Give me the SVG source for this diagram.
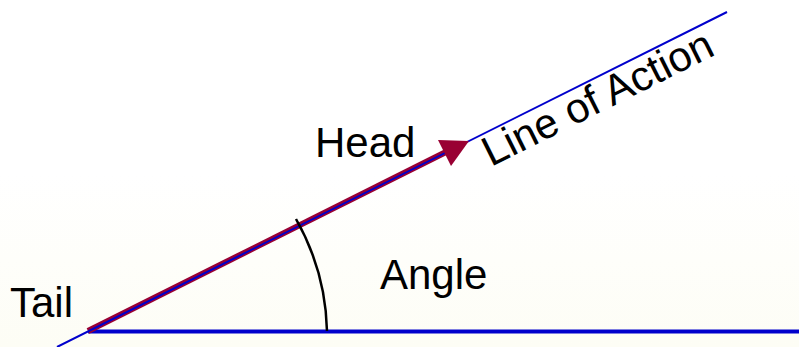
<svg xmlns="http://www.w3.org/2000/svg" width="799" height="347" viewBox="0 0 799 347">
  <defs>
    <linearGradient id="bg" x1="0" y1="0" x2="0" y2="1">
      <stop offset="0" stop-color="#ffffff"/>
      <stop offset="0.5" stop-color="#ffffff"/>
      <stop offset="1" stop-color="#fdfdf5"/>
    </linearGradient>
    <style>
      .lbl { font-family: "Liberation Sans", Arial, sans-serif; font-size: 42px; fill: #000000; }
      .blue { stroke: #0000cc; fill: none; }
      .vec { stroke: #990033; fill: none; }
    </style>
  </defs>
  <rect x="0" y="0" width="799" height="347" fill="url(#bg)"/>

  <g id="connectors">
    <line id="baseline" class="blue" x1="88" y1="331.5" x2="799" y2="331.5" stroke-width="4"/>
    <line id="vector-shaft" class="vec" x1="88" y1="331" x2="448" y2="151" stroke-width="6"/>
    <line id="line-of-action" class="blue" x1="57" y1="347" x2="727" y2="12" stroke-width="2"/>
    <polygon id="vector-head" points="469,141 438,140 451,166" fill="#990033"/>
    <path id="angle-arc" d="M296,219 A238,238 0 0 1 327,331" fill="none" stroke="#000000" stroke-width="2.5"/>
  </g>

  <g id="tail"><text class="lbl" x="10" y="317">Tail</text></g>
  <g id="head"><text class="lbl" x="315" y="157">Head</text></g>
  <g id="angle"><text class="lbl" x="380" y="289">Angle</text></g>
  <g id="line-of-action-label"><text class="lbl" transform="translate(491,167) rotate(-26.57)">Line of Action</text></g>
</svg>
